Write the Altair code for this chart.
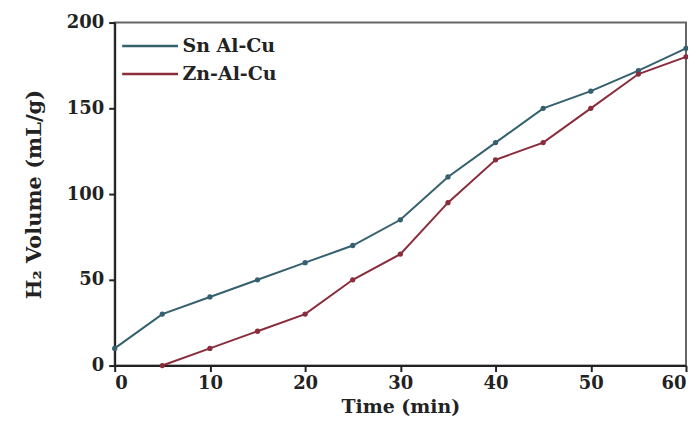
import altair as alt
import pandas as pd

sn_time = [0, 5, 10, 15, 20, 25, 30, 35, 40, 45, 50, 55, 60]
sn_vol = [10, 30, 40, 50, 60, 70, 85, 110, 130, 150, 160, 172, 185]
zn_time = [5, 10, 15, 20, 25, 30, 35, 40, 45, 50, 55, 60]
zn_vol = [0, 10, 20, 30, 50, 65, 95, 120, 130, 150, 170, 180]
series = ["Sn Al-Cu", "Zn-Al-Cu"]
colors = ["#35606e", "#8a2c3c"]

df = pd.concat([
    pd.DataFrame({"t": sn_time, "v": sn_vol, "s": series[0]}),
    pd.DataFrame({"t": zn_time, "v": zn_vol, "s": series[1]}),
])

font = "DejaVu Serif"

chart = alt.Chart(df).mark_line(
    strokeWidth=2,
    point=alt.OverlayMarkDef(filled=True, size=28, opacity=1),
).encode(
    x=alt.X("t:Q", title="Time (min)",
            scale=alt.Scale(domain=[0, 60], nice=False),
            axis=alt.Axis(values=[0, 10, 20, 30, 40, 50, 60], format="d")),
    y=alt.Y("v:Q", title="H₂ Volume (mL/g)",
            scale=alt.Scale(domain=[0, 200], nice=False),
            axis=alt.Axis(values=[0, 50, 100, 150, 200], format="d")),
    color=alt.Color("s:N", title=None,
                    scale=alt.Scale(domain=series, range=colors),
                    legend=alt.Legend(orient="none", legendX=20, legendY=8,
                                      symbolType="M-2,0H2", symbolSize=784,
                                      symbolStrokeWidth=2.5,
                                      labelFont=font, labelFontSize=19,
                                      labelFontWeight="bold", labelColor="#222",
                                      rowPadding=2, labelOffset=17)),
).properties(
    width=573, height=344,
    padding={"left": 107, "top": 14, "right": 2, "bottom": 58},
    autosize=alt.AutoSizeParams(type="none"),
).configure_view(
    stroke="#666", strokeWidth=2,
).configure_axis(
    grid=False,
    domainColor="#222", domainWidth=2,
    tickColor="#222", tickWidth=2, tickSize=6,
    labelFont=font, labelFontSize=18, labelFontWeight="bold", labelColor="#222",
    titleFont=font, titleFontWeight="bold", titleColor="#222",
    labelPadding=5,
).configure_axisX(
    titleFontSize=19, titlePadding=5, labelPadding=3,
).configure_axisY(
    titleFontSize=21, titlePadding=22,
)

chart.save("out.html", embed_options={"renderer": "svg", "actions": False})
